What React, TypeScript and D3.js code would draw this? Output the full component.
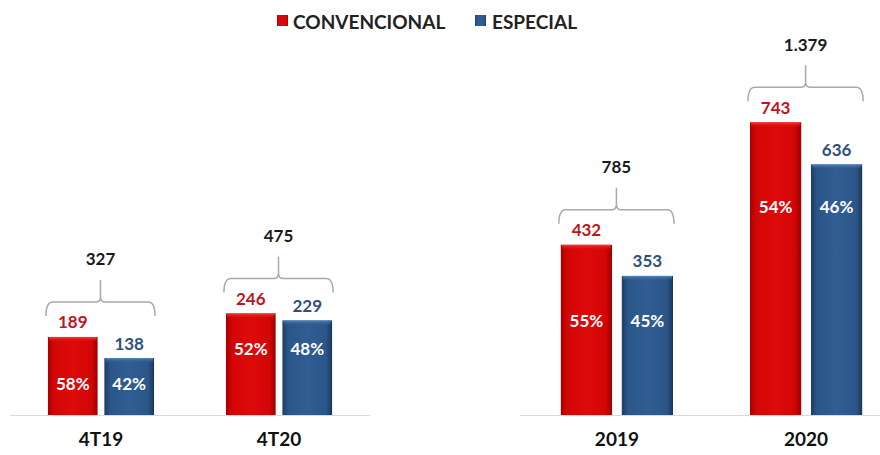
import React from "react";
import * as d3 from "d3";

const leftCategories = ["4T19", "4T20"];
const rightCategories = ["2019", "2020"];
const series = ["CONVENCIONAL", "ESPECIAL"];
const leftConv = [189, 246];
const leftEsp = [138, 229];
const leftTotals = ["327", "475"];
const leftPct = [["58%", "42%"], ["52%", "48%"]];
const rightConv = [432, 743];
const rightEsp = [353, 636];
const rightTotals = ["785", "1.379"];
const rightPct = [["55%", "45%"], ["54%", "46%"]];
// where (in value units) the percentage labels sit
const leftPctAt = [77, 160];
const rightPctAt = [239, 528];

const W = 880;
const H = 455;
const BASE = 415;
const FONT = "Lato, 'Open Sans', sans-serif";
const RED_TXT = "#c0141e";
const BLUE_TXT = "#2f4f7c";

type Panel = {
  cats: string[];
  conv: number[];
  esp: number[];
  totals: string[];
  pct: string[][];
  pctAt: number[];
  x: d3.ScaleBand<string>;
  y: d3.ScaleLinear<number, number>;
  inner: number;
};

function bracketPath(xl: number, xr: number, yEnd: number, yH: number, yTip: number) {
  const xm = (xl + xr) / 2;
  const r = 7;
  return [
    `M${xl},${yEnd}`,
    `Q${xl},${yH} ${xl + r},${yH}`,
    `L${xm - 5},${yH}`,
    `Q${xm},${yH} ${xm},${yH - 5}`,
    `L${xm},${yTip}`,
    `M${xm},${yH - 5}`,
    `Q${xm},${yH} ${xm + 5},${yH}`,
    `L${xr - r},${yH}`,
    `Q${xr},${yH} ${xr},${yEnd}`,
  ].join(" ");
}

function PanelView({ p }: { p: Panel }) {
  const inner = d3
    .scaleBand<string>()
    .domain(series)
    .range([0, p.x.bandwidth()])
    .paddingInner(p.inner);
  return (
    <g>
      {p.cats.map((c, i) => {
        const gx = p.x(c)!;
        const vals = [p.conv[i], p.esp[i]];
        const maxTop = p.y(Math.max(...vals));
        const xl = gx + inner(series[0])! - 2;
        const xr = gx + inner(series[1])! + inner.bandwidth() + 1;
        const yEnd = maxTop - 21;
        const yH = yEnd - 14;
        const yTip = yH - 22;
        return (
          <g key={c}>
            {vals.map((v, j) => {
              const bx = gx + inner(series[j])!;
              const top = p.y(v);
              const bw = inner.bandwidth();
              return (
                <g key={j}>
                  <rect
                    x={bx}
                    y={top}
                    width={bw}
                    height={BASE - top}
                    fill={j === 0 ? "url(#gRed)" : "url(#gBlue)"}
                  />
                  <rect
                    x={bx + 1}
                    y={top}
                    width={bw - 2}
                    height={5}
                    fill={j === 0 ? "url(#gRedTop)" : "url(#gBlueTop)"}
                  />
                  <text
                    x={bx + bw / 2}
                    y={top - 15}
                    textAnchor="middle"
                    dominantBaseline="central"
                    fontFamily={FONT}
                    fontWeight={700}
                    fontSize={17}
                    fill={j === 0 ? RED_TXT : BLUE_TXT}
                  >
                    {v}
                  </text>
                  <text
                    x={bx + bw / 2}
                    y={p.y(p.pctAt[i])}
                    textAnchor="middle"
                    dominantBaseline="central"
                    fontFamily={FONT}
                    fontWeight={700}
                    fontSize={17}
                    fill="#ffffff"
                  >
                    {p.pct[i][j]}
                  </text>
                </g>
              );
            })}
            <path
              d={bracketPath(xl, xr, yEnd, yH, yTip)}
              fill="none"
              stroke="#a9a9a9"
              strokeWidth={1.5}
            />
            <text
              x={(xl + xr) / 2}
              y={yH - 43}
              textAnchor="middle"
              dominantBaseline="central"
              fontFamily={FONT}
              fontWeight={700}
              fontSize={17}
              fill="#1a1a1a"
            >
              {p.totals[i]}
            </text>
            <text
              x={gx + p.x.bandwidth() / 2}
              y={438}
              textAnchor="middle"
              dominantBaseline="central"
              fontFamily={FONT}
              fontWeight={700}
              fontSize={19}
              fill="#111111"
            >
              {c}
            </text>
          </g>
        );
      })}
    </g>
  );
}

export default function App() {
  const xLeft = d3
    .scaleBand<string>()
    .domain(leftCategories)
    .range([10, 370])
    .paddingInner(0.404)
    .paddingOuter(0.213);
  const xRight = d3
    .scaleBand<string>()
    .domain(rightCategories)
    .range([523, 900])
    .paddingInner(0.407)
    .paddingOuter(0.2);
  const yLeft = d3.scaleLinear().domain([0, 800]).range([BASE, BASE - 0.413 * 800]);
  const yRight = d3.scaleLinear().domain([0, 1000]).range([BASE, BASE - 0.394 * 1000]);

  const left: Panel = {
    cats: leftCategories,
    conv: leftConv,
    esp: leftEsp,
    totals: leftTotals,
    pct: leftPct,
    pctAt: leftPctAt,
    x: xLeft,
    y: yLeft,
    inner: 0.12,
  };
  const right: Panel = {
    cats: rightCategories,
    conv: rightConv,
    esp: rightEsp,
    totals: rightTotals,
    pct: rightPct,
    pctAt: rightPctAt,
    x: xRight,
    y: yRight,
    inner: 0.16,
  };

  return (
    <svg
      width={W}
      height={H}
      style={{ position: "absolute", left: 0, top: 0, background: "#fff" }}
    >
      <defs>
        <linearGradient id="gRed" x1="0" x2="1" y1="0" y2="0">
          <stop offset="0" stopColor="#a80000" />
          <stop offset="0.12" stopColor="#d20606" />
          <stop offset="0.5" stopColor="#de0a0a" />
          <stop offset="0.88" stopColor="#d20606" />
          <stop offset="1" stopColor="#9a0000" />
        </linearGradient>
        <linearGradient id="gBlue" x1="0" x2="1" y1="0" y2="0">
          <stop offset="0" stopColor="#1d3c64" />
          <stop offset="0.12" stopColor="#2b5689" />
          <stop offset="0.5" stopColor="#305d93" />
          <stop offset="0.88" stopColor="#2b5689" />
          <stop offset="1" stopColor="#1a3658" />
        </linearGradient>
        <linearGradient id="gRedTop" x1="0" x2="0" y1="0" y2="1">
          <stop offset="0" stopColor="#f04040" />
          <stop offset="1" stopColor="#de0a0a" stopOpacity={0} />
        </linearGradient>
        <linearGradient id="gBlueTop" x1="0" x2="0" y1="0" y2="1">
          <stop offset="0" stopColor="#5a84b8" />
          <stop offset="1" stopColor="#305d93" stopOpacity={0} />
        </linearGradient>
      </defs>

      {/* legend */}
      <g fontFamily={FONT} fontWeight={700} fontSize={19} fill="#222">
        <rect x={277} y={15} width={11} height={11} fill="url(#gRed)" />
        <text x={293} y={21} dominantBaseline="central">
          {series[0]}
        </text>
        <rect x={475} y={15} width={11} height={11} fill="url(#gBlue)" />
        <text x={492} y={21} dominantBaseline="central">
          {series[1]}
        </text>
      </g>

      {/* baselines */}
      <line x1={10} x2={370} y1={BASE + 0.5} y2={BASE + 0.5} stroke="#d9d9d9" strokeWidth={1} />
      <line x1={520} x2={880} y1={BASE + 0.5} y2={BASE + 0.5} stroke="#d9d9d9" strokeWidth={1} />

      <PanelView p={left} />
      <PanelView p={right} />
    </svg>
  );
}
